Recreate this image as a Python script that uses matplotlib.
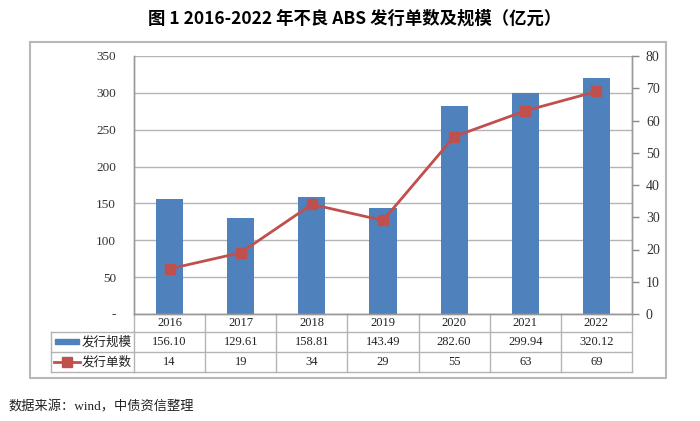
import matplotlib

matplotlib.use("Agg")

import matplotlib.pyplot as plt
from matplotlib.lines import Line2D
from matplotlib.patches import Rectangle
from matplotlib.ticker import FixedLocator, FixedFormatter

years = ["2016", "2017", "2018", "2019", "2020", "2021", "2022"]
scale = [156.10, 129.61, 158.81, 143.49, 282.60, 299.94, 320.12]
counts = [14, 19, 34, 29, 55, 63, 69]
scale_labels = ["156.10", "129.61", "158.81", "143.49", "282.60", "299.94", "320.12"]
left_ticks = [0, 50, 100, 150, 200, 250, 300, 350]
left_tick_labels = ["-", "50", "100", "150", "200", "250", "300", "350"]
right_ticks = [0, 10, 20, 30, 40, 50, 60, 70, 80]

BLUE = "#4F81BD"
RED = "#C0504D"
GRID = "#B4B4B4"
EDGE = "#B8B8B8"
MIXED = ["Liberation Serif", "Noto Sans CJK SC"]

W, H = 700, 421


def fx(px):
    return px / W


def fy(py):
    return 1 - py / H


fig = plt.figure(figsize=(7, 4.21), dpi=100)

# outer frame of the chart
fig.patches.append(Rectangle((fx(30), fy(378)), fx(666) - fx(30), fy(42) - fy(378),
                             transform=fig.transFigure, fill=False, edgecolor=EDGE, lw=1.5))

ax = fig.add_axes([fx(134), fy(314), fx(632) - fx(134), fy(56) - fy(314)])
ax2 = ax.twinx()

x = list(range(len(years)))
ax.bar(x, scale, width=0.38, color=BLUE, zorder=2)
ax.set_xlim(-0.5, len(years) - 0.5)
ax.set_ylim(0, 350)
ax.yaxis.set_major_locator(FixedLocator(left_ticks))
ax.yaxis.set_major_formatter(FixedFormatter(left_tick_labels))
ax.grid(axis="y", color=GRID, lw=1, zorder=0)
ax.set_axisbelow(True)
ax.set_xticks([])
ax.tick_params(axis="y", length=0, pad=13, labelsize=9.5, labelcolor="#333333")
for lab in ax.get_yticklabels():
    lab.set_family("Liberation Serif")

ax2.plot(x, counts, color=RED, lw=2, marker="s", markersize=6.5, zorder=3)
ax2.set_ylim(0, 80)
ax2.yaxis.set_major_locator(FixedLocator(right_ticks))
ax2.tick_params(axis="y", length=5, width=1, color="#888888", pad=5, labelsize=10,
                labelcolor="#333333", direction="out")
for lab in ax2.get_yticklabels():
    lab.set_family("Liberation Serif")

for a in (ax, ax2):
    a.spines["top"].set_visible(False)
    for side in ("left", "right", "bottom"):
        a.spines[side].set_color("#999999")
        a.spines[side].set_linewidth(1)

# data table under the plot
trans = ax.get_xaxis_transform()
plot_h = 258.0
rows_px = [0, 18, 38, 58]
rows = [-r / plot_h for r in rows_px]

for r in rows[1:]:
    ax.plot([-0.5, len(years) - 0.5], [r, r], transform=trans, color=GRID, lw=1, clip_on=False)
for i in range(len(years) + 1):
    ax.plot([i - 0.5, i - 0.5], [0, rows[-1]], transform=trans, color=GRID, lw=1, clip_on=False)

for i in range(len(years)):
    ax.text(i, (rows[0] + rows[1]) / 2, years[i], transform=trans, ha="center", va="center",
            fontsize=9, family=MIXED, color="#222222")
    ax.text(i, (rows[1] + rows[2]) / 2, scale_labels[i], transform=trans, ha="center",
            va="center", fontsize=9, family=MIXED, color="#222222")
    ax.text(i, (rows[2] + rows[3]) / 2, str(counts[i]), transform=trans, ha="center",
            va="center", fontsize=9, family=MIXED, color="#222222")

# label column of the table
for py in (332, 352, 372):
    fig.lines.append(Line2D([fx(51), fx(134)], [fy(py), fy(py)], transform=fig.transFigure,
                            color=GRID, lw=1))
fig.lines.append(Line2D([fx(51), fx(51)], [fy(332), fy(372)], transform=fig.transFigure,
                        color=GRID, lw=1))

fig.patches.append(Rectangle((fx(55), fy(344)), fx(24), 5 / H, transform=fig.transFigure,
                             color=BLUE))
fig.lines.append(Line2D([fx(54), fx(67), fx(80)], [fy(362)] * 3, transform=fig.transFigure,
                        color=RED, lw=2, marker="s", markersize=6.5, markevery=[1]))
fig.text(fx(82), fy(342), "发行规模", ha="left", va="center", fontsize=9,
         family=MIXED, color="#222222")
fig.text(fx(82), fy(362), "发行单数", ha="left", va="center", fontsize=9,
         family=MIXED, color="#222222")

fig.text(0.507, fy(19), "图 1 2016-2022 年不良 ABS 发行单数及规模（亿元）", ha="center",
         va="center", fontsize=12.5, fontweight="bold", family=["Noto Sans CJK SC", "DejaVu Sans"])

fig.text(fx(8), fy(407), "数据来源：wind，中债资信整理", ha="left", va="center",
         fontsize=9.5, family=MIXED, color="#222222")

fig.savefig("out.png", dpi=100)
